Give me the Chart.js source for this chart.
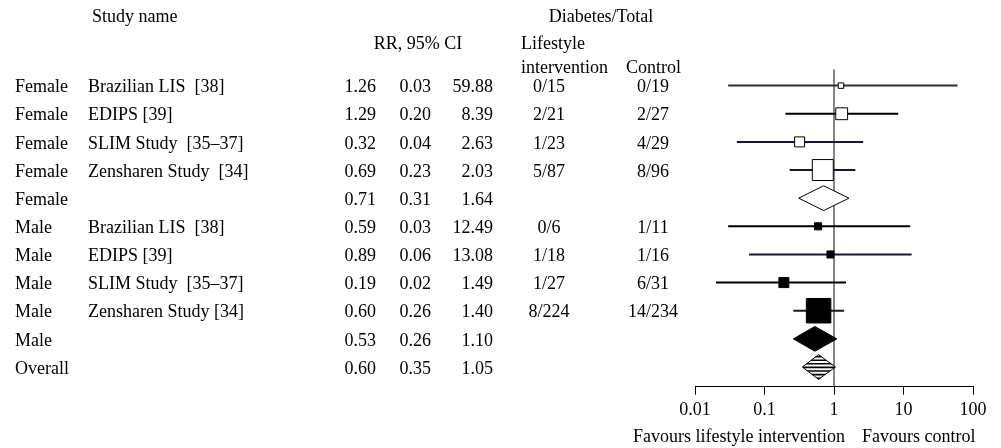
<!DOCTYPE html>
<html>
<head>
<meta charset="utf-8">
<script src="https://cdn.jsdelivr.net/npm/chart.js@4.4.0/dist/chart.umd.min.js"></script>
<style>
  html, body { margin: 0; padding: 0; background: #fff; }
</style>
</head>
<body>
<canvas id="forestPlot" width="1001" height="448"></canvas>
<script>
// rows, top to bottom
var groups = ['Female', 'Female', 'Female', 'Female', 'Female', 'Male', 'Male', 'Male', 'Male', 'Male', 'Overall'];
var studies = ['Brazilian LIS  [38]', 'EDIPS [39]', 'SLIM Study  [35\u201337]', 'Zensharen Study  [34]', '',
               'Brazilian LIS  [38]', 'EDIPS [39]', 'SLIM Study  [35\u201337]', 'Zensharen Study [34]', '', ''];
var rr    = [1.26, 1.29, 0.32, 0.69, 0.71, 0.59, 0.89, 0.19, 0.60, 0.53, 0.60];
var lower = [0.03, 0.20, 0.04, 0.23, 0.31, 0.03, 0.06, 0.02, 0.26, 0.26, 0.35];
var upper = [59.88, 8.39, 2.63, 2.03, 1.64, 12.49, 13.08, 1.49, 1.40, 1.10, 1.05];
var lifestyle = ['0/15', '2/21', '1/23', '5/87', '', '0/6', '1/18', '1/27', '8/224', '', ''];
var control   = ['0/19', '2/27', '4/29', '8/96', '', '1/11', '1/16', '6/31', '14/234', '', ''];
var pooled  = [false, false, false, false, true, false, false, false, false, true, true];
var weights = [3, 14, 10, 44, 0, 5, 5, 10, 60, 0, 0]; // relative study weight (box area)
var tickValues = [0.01, 0.1, 1, 10, 100];
var tickLabels = ['0.01', '0.1', '1', '10', '100'];

var FONT = '"Liberation Serif", "Times New Roman", serif';
var NAVY = '#15153f';
var lineColors = ['#2e2e2e', '#000', NAVY, NAVY, null, '#000', NAVY, '#000', NAVY, null, null];

var studyRows = [];
rr.forEach(function (v, i) { if (!pooled[i]) studyRows.push(i); });

var datasets = [];
// boxes (drawn on top)
datasets.push({
    data: studyRows.map(function (i) { return { x: rr[i], y: i }; }),
    pointStyle: 'rect',
    pointRadius: studyRows.map(function (i) { return Math.sqrt(weights[i] * 10) / Math.SQRT2; }),
    pointBackgroundColor: studyRows.map(function (i) { return groups[i] === 'Female' ? '#fff' : '#000'; }),
    pointBorderColor: '#000',
    pointBorderWidth: 1,
    order: 0
});
// confidence interval lines
studyRows.forEach(function (i) {
    datasets.push({
        data: [{ x: lower[i], y: i }, { x: upper[i], y: i }],
        showLine: true,
        borderColor: lineColors[i],
        borderWidth: 2,
        pointRadius: 0,
        order: 1
    });
});
// line of no effect
datasets.push({
    data: [{ x: 1, y: -0.58 }, { x: 1, y: 10.7 }],
    showLine: true,
    borderColor: '#444',
    borderWidth: 1.3,
    pointRadius: 0,
    order: 2
});

var forestText = {
    id: 'forestText',
    afterDatasetsDraw: function (chart) {
        var ctx = chart.ctx;
        var xs = chart.scales.x, ys = chart.scales.y;
        var rowH = ys.getPixelForValue(1) - ys.getPixelForValue(0);

        // pooled diamonds
        rr.forEach(function (v, i) {
            if (!pooled[i]) return;
            var yc = ys.getPixelForValue(i);
            var h = rowH * 0.44;
            var xl = xs.getPixelForValue(lower[i]);
            var xm = xs.getPixelForValue(rr[i]);
            var xr = xs.getPixelForValue(upper[i]);
            ctx.save();
            ctx.beginPath();
            ctx.moveTo(xl, yc);
            ctx.lineTo(xm, yc - h);
            ctx.lineTo(xr, yc);
            ctx.lineTo(xm, yc + h);
            ctx.closePath();
            ctx.fillStyle = groups[i] === 'Male' ? '#000' : '#fff';
            ctx.fill();
            if (groups[i] === 'Overall') {
                ctx.save();
                ctx.clip();
                ctx.strokeStyle = '#000';
                ctx.lineWidth = 1.6;
                for (var yy = yc - h + 2; yy < yc + h; yy += 3.6) {
                    ctx.beginPath();
                    ctx.moveTo(xl - 2, yy);
                    ctx.lineTo(xr + 2, yy);
                    ctx.stroke();
                }
                ctx.restore();
                ctx.beginPath();
                ctx.moveTo(xl, yc);
                ctx.lineTo(xm, yc - h);
                ctx.lineTo(xr, yc);
                ctx.lineTo(xm, yc + h);
                ctx.closePath();
            }
            ctx.strokeStyle = '#000';
            ctx.lineWidth = 1;
            ctx.stroke();
            ctx.restore();
        });

        // table text
        ctx.save();
        ctx.font = '18px ' + FONT;
        ctx.fillStyle = '#000';
        ctx.textBaseline = 'middle';

        ctx.textAlign = 'left';
        ctx.fillText('Study name', 92, 17);
        ctx.fillText('Lifestyle', 521, 44);
        ctx.fillText('intervention', 521, 68);
        ctx.fillText('Control', 626, 68);
        ctx.textAlign = 'center';
        ctx.fillText('RR, 95% CI', 418, 44);
        ctx.fillText('Diabetes/Total', 601, 17);

        rr.forEach(function (v, i) {
            var y = ys.getPixelForValue(i) + 2;
            ctx.textAlign = 'left';
            ctx.fillText(groups[i], 15, y);
            ctx.fillText(studies[i], 88, y);
            ctx.textAlign = 'right';
            ctx.fillText(rr[i].toFixed(2), 376, y);
            ctx.fillText(lower[i].toFixed(2), 431, y);
            ctx.fillText(upper[i].toFixed(2), 493, y);
            ctx.textAlign = 'center';
            ctx.fillText(lifestyle[i], 549, y);
            ctx.fillText(control[i], 653, y);
        });

        var x1 = xs.getPixelForValue(1);
        ctx.textAlign = 'right';
        ctx.fillText('Favours lifestyle intervention', x1 + 11, 437);
        ctx.textAlign = 'left';
        ctx.fillText('Favours control', x1 + 28, 437);
        ctx.restore();
    }
};

new Chart(document.getElementById('forestPlot'), {
    type: 'scatter',
    data: { datasets: datasets },
    options: {
        responsive: false,
        animation: false,
        events: [],
        layout: { padding: { left: 695, right: 28, top: 69.3, bottom: 21.7 } },
        plugins: { legend: { display: false }, tooltip: { enabled: false } },
        scales: {
            x: {
                type: 'logarithmic',
                min: 0.01,
                max: 100,
                afterBuildTicks: function (scale) {
                    scale.ticks = tickValues.map(function (v) { return { value: v }; });
                },
                ticks: {
                    autoSkip: false,
                    maxRotation: 0,
                    padding: 5,
                    color: '#000',
                    font: { family: FONT, size: 18 },
                    callback: function (value, index) { return tickLabels[index]; }
                },
                grid: { drawOnChartArea: false, drawTicks: true, tickLength: 8, color: '#000' },
                border: { display: true, color: '#000', width: 1 }
            },
            y: {
                type: 'linear',
                reverse: true,
                min: -0.58,
                max: 10.7,
                display: false
            }
        }
    },
    plugins: [forestText]
});
</script>
</body>
</html>
